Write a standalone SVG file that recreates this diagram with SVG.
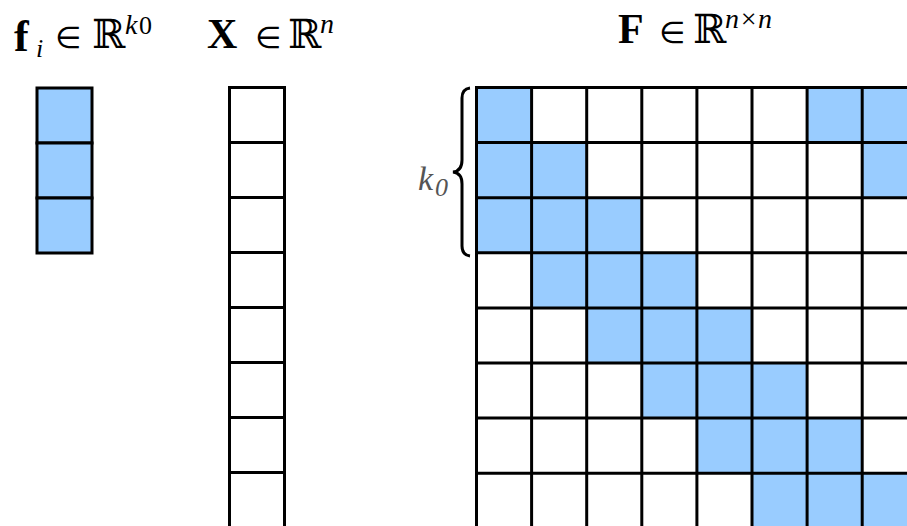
<svg xmlns="http://www.w3.org/2000/svg" width="907" height="526" viewBox="0 0 907 526">
<style>
.c{stroke:#000;stroke-width:3;fill:#fff}
.b{fill:#99ccff}
.t{font-family:"Liberation Serif",serif;fill:#000}
.m{font-family:"DejaVu Serif",serif;fill:#000}
.e{font-family:"DejaVu Sans",sans-serif;fill:#000;font-size:30px}
</style>
<rect width="907" height="526" fill="#fff"/>
<g id="title-f">
<text class="t" x="14" y="51" font-size="44" font-weight="bold">f</text>
<text class="t" x="36" y="57" font-size="26" font-style="italic">i</text>
<text class="e" x="55" y="48">∈</text>
<text class="m" x="92" y="48" font-size="40">ℝ</text>
<text class="t" x="125" y="34" font-size="28" font-style="italic">k</text>
<text class="t" x="139" y="34" font-size="26">0</text>
</g>
<g id="title-X">
<text class="t" x="207" y="48" font-size="42" font-weight="bold">X</text>
<text class="e" x="255" y="48">∈</text>
<text class="m" x="288" y="48" font-size="40">ℝ</text>
<text class="t" x="320" y="33" font-size="28" font-style="italic">n</text>
</g>
<g id="title-F">
<text class="t" x="618" y="43" font-size="42" font-weight="bold">F</text>
<text class="e" x="659" y="43">∈</text>
<text class="m" x="693" y="43" font-size="40">ℝ</text>
<text class="t" x="725" y="28" font-size="28" font-style="italic">n×n</text>
</g>
<g id="vec-f">
<rect class="c b" x="37" y="88" width="55" height="55"/>
<rect class="c b" x="37" y="143" width="55" height="55"/>
<rect class="c b" x="37" y="198" width="55" height="55"/>
</g>
<g id="vec-X">
<rect class="c" x="229.5" y="87.5" width="55" height="55"/>
<rect class="c" x="229.5" y="142.5" width="55" height="55"/>
<rect class="c" x="229.5" y="197.5" width="55" height="55"/>
<rect class="c" x="229.5" y="252.5" width="55" height="55"/>
<rect class="c" x="229.5" y="307.5" width="55" height="55"/>
<rect class="c" x="229.5" y="362.5" width="55" height="55"/>
<rect class="c" x="229.5" y="417.5" width="55" height="55"/>
<rect class="c" x="229.5" y="472.5" width="55" height="55"/>
</g>
<g id="matrix-F">
<g fill="#99ccff">
<rect x="476.5" y="87.5" width="55.1" height="55.1"/>
<rect x="807.1" y="87.5" width="110.2" height="55.1"/>
<rect x="476.5" y="142.6" width="110.2" height="55.1"/>
<rect x="862.2" y="142.6" width="55.1" height="55.1"/>
<rect x="476.5" y="197.7" width="165.3" height="55.1"/>
<rect x="531.6" y="252.8" width="165.3" height="55.1"/>
<rect x="586.7" y="307.9" width="165.3" height="55.1"/>
<rect x="641.8" y="363" width="165.3" height="55.1"/>
<rect x="696.9" y="418.1" width="165.3" height="55.1"/>
<rect x="752" y="473.2" width="165.3" height="55.1"/>
</g>
<g stroke="#000" stroke-width="3">
<line x1="476.5" y1="86" x2="476.5" y2="526"/>
<line x1="531.6" y1="86" x2="531.6" y2="526"/>
<line x1="586.7" y1="86" x2="586.7" y2="526"/>
<line x1="641.8" y1="86" x2="641.8" y2="526"/>
<line x1="696.9" y1="86" x2="696.9" y2="526"/>
<line x1="752" y1="86" x2="752" y2="526"/>
<line x1="807.1" y1="86" x2="807.1" y2="526"/>
<line x1="862.2" y1="86" x2="862.2" y2="526"/>
<line x1="475" y1="87.5" x2="907" y2="87.5"/>
<line x1="475" y1="142.6" x2="907" y2="142.6"/>
<line x1="475" y1="197.7" x2="907" y2="197.7"/>
<line x1="475" y1="252.8" x2="907" y2="252.8"/>
<line x1="475" y1="307.9" x2="907" y2="307.9"/>
<line x1="475" y1="363" x2="907" y2="363"/>
<line x1="475" y1="418.1" x2="907" y2="418.1"/>
<line x1="475" y1="473.2" x2="907" y2="473.2"/>
</g>
</g>
<g id="brace-k0">
<path d="M470,88 Q462,89 462,98 L462,160 Q462,171 453,172 Q462,173 462,184 L462,246 Q462,255 470,256" fill="none" stroke="#000" stroke-width="3"/>
<text x="418" y="190" font-family="Liberation Serif,serif" font-size="34" font-style="italic" fill="#555">k</text>
<text x="435" y="196" font-family="Liberation Serif,serif" font-size="26" font-style="italic" fill="#555">0</text>
</g>
</svg>
